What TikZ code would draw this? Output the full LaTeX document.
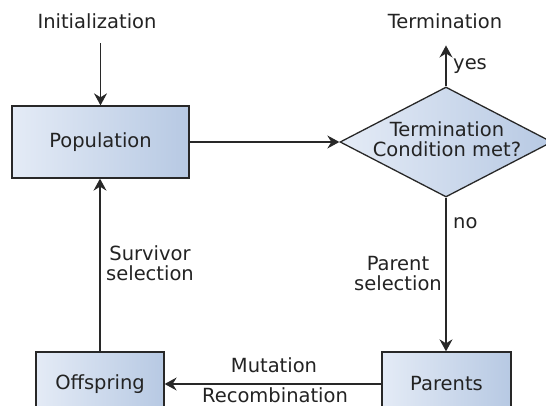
\documentclass[tikz,border=0pt]{standalone}
\usepackage{fontspec}
\setmainfont{DejaVu Sans}
\usetikzlibrary{arrows.meta,shapes.geometric}
\definecolor{boxl}{RGB}{228,235,246}
\definecolor{boxr}{RGB}{183,201,227}
\definecolor{bord}{RGB}{40,40,40}
\definecolor{txt}{RGB}{35,35,35}
\begin{document}
\begin{tikzpicture}[x=1pt,y=-1pt,
  lbl/.style={font=\fontsize{19.5}{20}\selectfont, text=txt, inner sep=0pt, align=center},
  box/.style={draw=bord, line width=1.3pt, left color=boxl, right color=boxr,
    font=\fontsize{19.5}{20}\selectfont, text=txt, inner sep=0pt},
  arr/.style={-{Stealth[length=12pt,width=13pt,inset=4pt]}, line width=1.3pt, draw=bord}]
\clip (0,0) rectangle (546,406);
\fill[white] (0,0) rectangle (546,406);
% boxes
\node[box, minimum width=177pt, minimum height=72pt] (pop) at (100.5,142) {Population};
\node[box, minimum width=128pt, minimum height=64pt] (off) at (100,384) {Offspring};
\node[box, minimum width=129pt, minimum height=64pt] (par) at (446.5,384) {Parents};
\node[box, diamond, minimum width=212pt, minimum height=110pt] (dia) at (446,142) {};
\node[lbl] (diatext) at (447,139.6) {Termination\\Condition met?};
% free labels
\node[lbl, anchor=base] (init) at (97,29) {Initialization};
\node[lbl, anchor=base] (term) at (445,29) {Termination};
\node[lbl, anchor=base west] (yes) at (453,70) {yes};
\node[lbl, anchor=base west] (no) at (453,229) {no};
\node[lbl] (surv) at (150,263.7) {Survivor\\selection};
\node[lbl] (psel) at (398,273.7) {Parent\\selection};
\node[lbl, anchor=base] (mut) at (274,372) {Mutation};
\node[lbl, anchor=base] (rec) at (275,402) {Recombination};
% connectors
\draw[arr, shorten <=14pt] (init.south -| pop.north) -- (pop.north);
\draw[arr] (pop.east) -- (dia.west);
\draw[arr, shorten >=16pt] (dia.north) -- (dia.north |- term.south);
\draw[arr] (dia.south) -- (dia.south |- par.north);
\draw[arr] (par.west) -- (off.east);
\draw[arr] (off.north) -- (off.north |- pop.south);
\end{tikzpicture}
\end{document}
